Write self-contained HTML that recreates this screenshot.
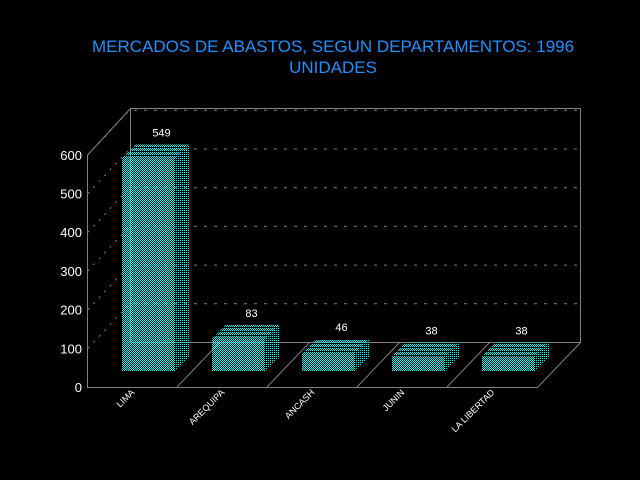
<!DOCTYPE html>
<html><head><meta charset="utf-8"><style>
html,body{margin:0;padding:0;background:#000;}
svg{display:block;font-family:"Liberation Sans",sans-serif;}
</style></head><body>
<svg id="chart" width="640" height="480" viewBox="0 0 640 480" xmlns="http://www.w3.org/2000/svg">
<defs>
<pattern id="pf" width="2" height="2" patternUnits="userSpaceOnUse"><rect width="1" height="1" fill="#00ffff"/><rect x="1" y="1" width="1" height="1" fill="#00ffff"/></pattern>
<pattern id="pt" width="4" height="4" patternUnits="userSpaceOnUse"><rect width="1" height="1" fill="#00ffff"/><rect x="2" y="0" width="1" height="1" fill="#00ffff"/><rect x="1" y="1" width="1" height="1" fill="#00ffff"/><rect x="3" y="1" width="1" height="1" fill="#00ffff"/><rect x="0" y="2" width="1" height="1" fill="#00ffff"/><rect x="2" y="2" width="1" height="1" fill="#00ffff"/></pattern>
<pattern id="ps" width="2" height="2" patternUnits="userSpaceOnUse"><rect width="1" height="1" fill="#00ffff"/></pattern>
</defs>
<text x="333" y="52" fill="#1e90ff" font-size="17" text-anchor="middle">MERCADOS DE ABASTOS, SEGUN DEPARTAMENTOS: 1996</text>
<text x="333" y="73" fill="#1e90ff" font-size="17" text-anchor="middle">UNIDADES</text>
<g id="frame" stroke="#808080" stroke-width="1" fill="none">
<path d="M87.5 155V387.5H537.5L580.5 342.5V108.5H130.5V342.5H580.5M87.5 155L130.5 108.5"/>
</g>
<g id="grid"></g>
<g id="bars"></g>
<g id="labels"></g>
</svg>
<script>
const categories=["LIMA","AREQUIPA","ANCASH","JUNIN","LA LIBERTAD"];
const values=[549,83,46,38,38];
const yTicks=[0,100,200,300,400,500,600];
const NS="http://www.w3.org/2000/svg";
const X0=87,Y0=387,DX=43,DY=45,SLOT=90,UNIT=38.7/100;
function y(v){return Y0-v*UNIT;}
function mk(tag,attrs,parent){const e=document.createElementNS(NS,tag);for(const k in attrs)e.setAttribute(k,attrs[k]);parent.appendChild(e);return e;}
const grid=document.getElementById('grid'),bars=document.getElementById('bars'),labels=document.getElementById('labels');
yTicks.forEach(t=>{
  const yy=y(t);
  const tl=mk('text',{x:82,y:yy+5,fill:'#fff','font-size':13,'text-anchor':'end'},labels);
  tl.textContent=t;
  
  
  if(t>0){
    const d=mk('line',{x1:X0+1,y1:yy,x2:X0+DX,y2:yy-DY,stroke:'#808080','stroke-dasharray':'2 6'},grid);
    
    
    const g=mk('line',{x1:X0+DX+4,y1:yy-DY+0.5,x2:X0+DX+450,y2:yy-DY+0.5,stroke:'#808080','stroke-dasharray':'3 7'},grid);
    
    
  }
});
for(let i=1;i<categories.length;i++){
  const x=X0+i*SLOT;
  const l=mk('line',{x1:x,y1:Y0,x2:x+DX,y2:Y0-DY,stroke:'#808080'},grid);
  
  
}
const off=16,bd=14,bw=53,bx=19;
categories.forEach((c,i)=>{
  const fx=X0+i*SLOT+off+bx, fb=Y0-off, ft=fb-values[i]*UNIT;
  const g=mk('g',{},bars);
  
  
  mk('polygon',{points:`${fx},${ft} ${fx+bd},${ft-bd} ${fx+bw+bd},${ft-bd} ${fx+bw},${ft}`,fill:'url(#pt)'},g);
  mk('polygon',{points:`${fx+bw},${ft} ${fx+bw+bd},${ft-bd} ${fx+bw+bd},${fb-bd} ${fx+bw},${fb}`,fill:'url(#ps)'},g);
  mk('rect',{x:fx,y:ft,width:bw,height:fb-ft,fill:'url(#pf)'},g);
  const v=mk('text',{x:fx+bw/2+bd/2+6,y:ft-bd-8,fill:'#fff','font-size':11,'text-anchor':'middle'},labels);
  v.textContent=values[i];
  
  
  const cx=X0+i*SLOT+48;
  const cl=mk('text',{x:cx,y:Y0+6,fill:'#fff','font-size':9,'text-anchor':'end',transform:`rotate(-45 ${cx} ${Y0+6})`},labels);
  cl.textContent=c;
  
  
});
</script>
</body></html>
